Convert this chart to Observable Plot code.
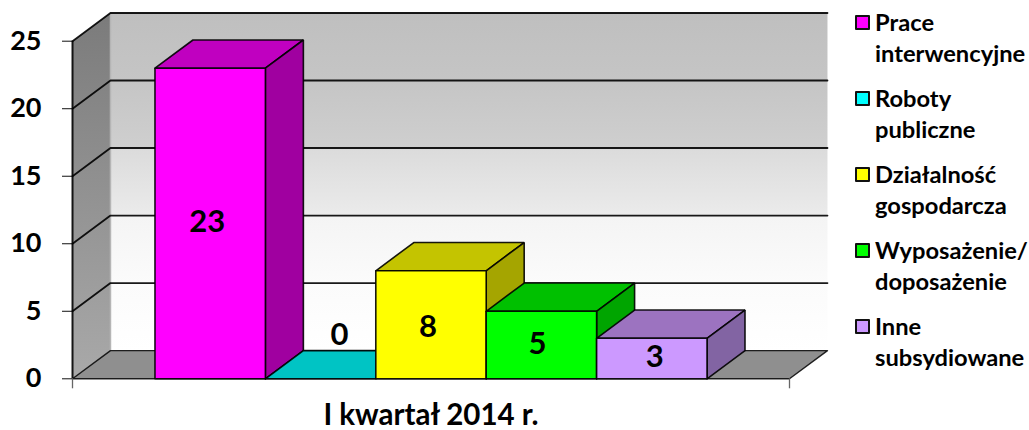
<!DOCTYPE html>
<html lang="pl">
<head>
<meta charset="utf-8">
<script src="https://cdn.jsdelivr.net/npm/d3@7"></script>
<script src="https://cdn.jsdelivr.net/npm/@observablehq/plot@0.6"></script>
<style>
html,body{margin:0;padding:0;background:#fff}
#wrap{position:relative;width:1029px;height:430px;overflow:hidden;font-family:Lato,sans-serif}
#legend{position:absolute;left:855px;top:7px;font-weight:700;font-size:23.7px;line-height:31px;color:#000}
.item{position:relative;padding-left:20px;height:76px;white-space:nowrap}
.key{position:absolute;left:0;top:8px;width:11px;height:11px;border:2px solid #111;border-radius:1px;box-sizing:content-box}
</style>
</head>
<body>
<div id="wrap"><div id="legend"></div></div>
<script>
const categories = ["Prace interwencyjne", "Roboty publiczne", "Działalność gospodarcza", "Wyposażenie/ doposażenie", "Inne subsydiowane"];
const legendLines = [["Prace", "interwencyjne"], ["Roboty", "publiczne"], ["Działalność", "gospodarcza"], ["Wyposażenie/", "doposażenie"], ["Inne", "subsydiowane"]];
const values = [23, 0, 8, 5, 3];
const yTicks = [0, 5, 10, 15, 20, 25];
const period = "I kwartał 2014 r.";

const frontColors = ["#ff00ff", "#00ffff", "#ffff00", "#00ff00", "#cc99ff"];
const topColors = ["#c000c0", "#00c4c4", "#c4c400", "#00c000", "#9c73c0"];
const sideColors = ["#a000a0", "#00a0a0", "#a5a500", "#00a500", "#8264a3"];
const labelDx = [-3, 19, -3, -4, 3];
const labelDy = [-1, -44, 2, -1, -1];

// 3D depth expressed in data units: one bar width across, in value units upward
const depthX = 0.344, depthY = 2.09;
const xMin = -0.747, xMax = 5.747, yMax = 25;

const poly = (id, fill, pts) => [...pts, pts[0]].map(([x, y]) => ({id, fill, x, y}));
const wall = poly("wall", "url(#wallGrad)", [[xMin + depthX, depthY], [xMax + depthX, depthY], [xMax + depthX, yMax + depthY], [xMin + depthX, yMax + depthY]]);
const side = poly("side", "url(#sideGrad)", [[xMin, 0], [xMin + depthX, depthY], [xMin + depthX, yMax + depthY], [xMin, yMax]]);
const floorA = poly("floor", "#8f8f8f", [[xMin, 0], [xMax, 0], [xMax + depthX, depthY], [xMin + depthX, depthY]]);

const grid = yTicks.flatMap(t => [
  {id: t, x: xMin, y: t},
  {id: t, x: xMin + depthX, y: t + depthY},
  {id: t, x: xMax + depthX, y: t + depthY}
]);

const bars = values.flatMap((v, i) => {
  const a = i, b = i + 1, dx = depthX, dy = depthY;
  const faces = [
    poly(`top${i}`, topColors[i], [[a, v], [b, v], [b + dx, v + dy], [a + dx, v + dy]])
  ];
  if (v > 0) {
    faces.push(poly(`side${i}`, sideColors[i], [[b, 0], [b + dx, dy], [b + dx, v + dy], [b, v]]));
    faces.push(poly(`front${i}`, frontColors[i], [[a, 0], [b, 0], [b, v], [a, v]]));
  }
  return faces.flat();
});

const defs = () => {
  const d = d3.create("svg:defs");
  const wg = d.append("linearGradient").attr("id", "wallGrad").attr("x1", 0).attr("x2", 0).attr("y1", 0).attr("y2", 1);
  [[0, "#bfbfbf"], [0.2, "#c5c5c5"], [0.4, "#cfcfcf"], [0.4, "#dbdbdb"], [0.6, "#ebebeb"], [0.6, "#f4f4f4"], [0.8, "#fbfbfb"], [1, "#ffffff"]].forEach(([o, c]) => wg.append("stop").attr("offset", o).attr("stop-color", c));
  const sg = d.append("linearGradient").attr("id", "sideGrad").attr("x1", 0).attr("x2", 0).attr("y1", 0).attr("y2", 1);
  [[0, "#7b7b7b"], [1, "#a9a9a9"]].forEach(([o, c]) => sg.append("stop").attr("offset", o).attr("stop-color", c));
  return d.node();
};

const chart = Plot.plot({
  width: 1029,
  height: 430,
  marginTop: 0, marginRight: 0, marginBottom: 0, marginLeft: 0,
  x: {domain: [xMin, xMax], range: [72, 789], axis: null},
  y: {domain: [0, yMax], range: [378.3, 40.7], axis: null},
  color: {type: "identity"},
  style: {background: "transparent", fontFamily: "Lato, sans-serif", overflow: "visible"},
  marks: [
    defs,
    Plot.line(wall, {x: "x", y: "y", fill: "url(#wallGrad)", stroke: "none"}),
    Plot.line(side, {x: "x", y: "y", fill: "url(#sideGrad)", stroke: "none"}),
    Plot.line(floorA, {x: "x", y: "y", fill: "#8f8f8f", stroke: "none"}),
    Plot.ruleX([xMin + depthX], {y1: depthY, y2: yMax + depthY, stroke: "#b5b5b5", strokeWidth: 1.5}),
    Plot.line(grid.filter(d => d.id > 0), {x: "x", y: "y", z: "id", stroke: "#000", strokeWidth: 1.8, strokeOpacity: 0.9}),
    Plot.line(floorA, {x: "x", y: "y", stroke: "#000", strokeWidth: 1.4, strokeOpacity: 0.85}),
    Plot.ruleX([xMin], {y1: 0, y2: yMax, stroke: "#000", strokeWidth: 2, strokeOpacity: 0.9}),
    Plot.axisY({ticks: yTicks, anchor: "left", x: xMin, tickSize: 10, tickPadding: 21, stroke: "#111", fontSize: 27, fontWeight: 700, fill: "#000", label: null}),
    Plot.ruleX([xMin, xMax], {y1: 0, y2: -0.74, stroke: "#666", strokeWidth: 1.3}),
    Plot.line(bars, {x: "x", y: "y", z: "id", fill: "fill", stroke: "#000", strokeWidth: 1.6, strokeOpacity: 0.9, strokeLinejoin: "miter"}),
    ...values.map((v, i) => Plot.text([v], {x: () => i + 0.5, y: d => d / 2, text: d => String(d), dx: labelDx[i], dy: labelDy[i], fontSize: 31, fontWeight: 700, fill: "#000"})),
    Plot.text([period], {x: () => (xMin + xMax) / 2, frameAnchor: "bottom", lineAnchor: "bottom", dy: -6, fontSize: 29.5, fontWeight: 700, fill: "#000"})
  ]
});
document.getElementById("wrap").prepend(chart);

const legend = document.getElementById("legend");
categories.forEach((c, i) => {
  const item = document.createElement("div");
  item.className = "item";
  const key = document.createElement("span");
  key.className = "key";
  key.style.background = frontColors[i];
  item.append(key);
  legendLines[i].forEach(l => { const s = document.createElement("div"); s.textContent = l; item.append(s); });
  legend.append(item);
});
</script>
</body>
</html>
